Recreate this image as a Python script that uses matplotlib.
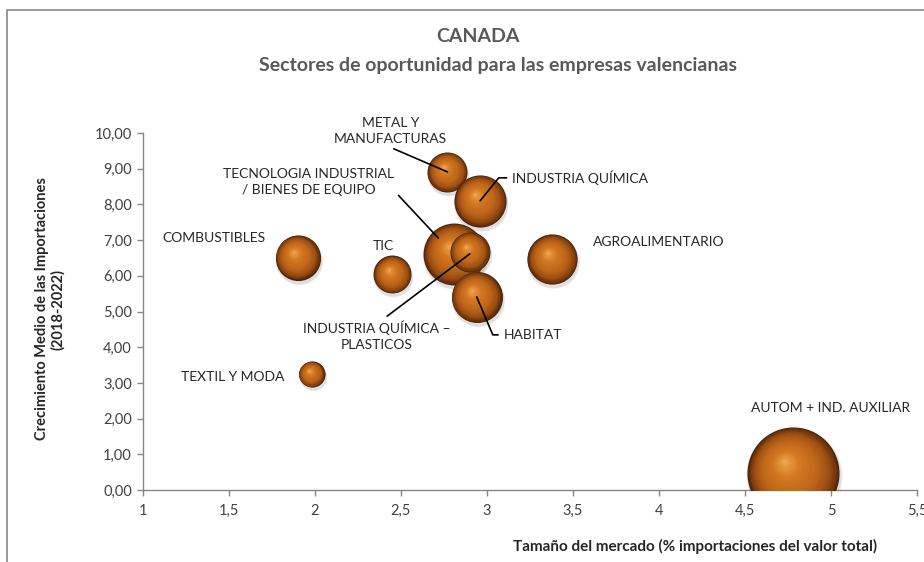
import numpy as np
import matplotlib
matplotlib.use('Agg')
import matplotlib.pyplot as plt
from matplotlib.colors import LinearSegmentedColormap
from matplotlib.patches import Rectangle
from matplotlib.transforms import offset_copy

plt.rcParams['font.family'] = ['Lato', 'DejaVu Sans']

# -----------------------
# Data
# -----------------------
sectors = ['COMBUSTIBLES', 'TIC', 'TEXTIL Y MODA', 'METAL Y\nMANUFACTURAS',
           'INDUSTRIA QUÍMICA', 'TECNOLOGIA INDUSTRIAL\n/ BIENES DE EQUIPO',
           'INDUSTRIA QUÍMICA –\nPLASTICOS', 'HABITAT', 'AGROALIMENTARIO',
           'AUTOM + IND. AUXILIAR']
market_size = [1.90, 2.45, 1.98, 2.77, 2.96, 2.81, 2.90, 2.94, 3.38, 4.78]
growth = [6.51, 6.04, 3.25, 8.91, 8.10, 6.61, 6.67, 5.41, 6.47, 0.48]
bubble = [5.1, 3.6, 1.7, 4.0, 6.8, 9.6, 4.0, 6.5, 6.3, 21.2]

x_ticks = [1, 1.5, 2, 2.5, 3, 3.5, 4, 4.5, 5, 5.5]
x_labels = ['1', '1,5', '2', '2,5', '3', '3,5', '4', '4,5', '5', '5,5']
y_ticks = list(range(0, 11))
y_labels = [f'{v},00' for v in y_ticks]

# drawing order (back to front)
order = [5, 6, 7, 3, 4, 0, 1, 2, 8, 9]

# label placement: offset in pixels from bubble, alignment, leader line
label_style = {
    0: (-84, 20, 'center', None),
    1: (-9, 28, 'center', None),
    2: (-79, -3, 'center', None),
    3: (-57, 41, 'center', dict(relpos=(0.45, 0.0), conn='arc3', end=(0, 0))),
    4: (32, 23, 'left', dict(relpos=(0.0, 0.5), conn='angle,angleA=0,angleB=51,rad=0', end=(0, 0))),
    5: (-130, 56, 'center', dict(relpos=(1.0, 0.2), conn='arc3', end=(-16, 16))),
    6: (-93, -82, 'center', dict(relpos=(0.53, 1.0), conn='arc3', end=(0, -2))),
    7: (27, -38, 'left', dict(relpos=(0.0, 0.5), conn='angle,angleA=0,angleB=113,rad=0', end=(0, 0))),
    8: (106, 17, 'center', None),
    9: (37, 65, 'center', None),
}

DPI = 100
fig = plt.figure(figsize=(9.24, 5.62), dpi=DPI)
ax = fig.add_axes([143 / 924, 72 / 562, 774 / 924, 357 / 562])

sphere_cmap = LinearSegmentedColormap.from_list(
    'sphere', [(0.0, '#4d240b'), (0.07, '#75390d'), (0.2, '#a05113'),
               (0.4, '#bf6619'), (0.7, '#d37922'), (0.9, '#e8973f'), (1.0, '#f5ad5c')])


def draw_bubble(x, y, size, z):
    r_px = 10 * np.sqrt(size)
    s_pt = (2 * r_px * 72 / DPI) ** 2
    hx, hy = -0.2 * r_px, 0.26 * r_px
    # soft shadow
    for a, grow in [(0.10, 1.10), (0.15, 1.04)]:
        sh = offset_copy(ax.transData, fig=fig, x=1.0, y=-3.0, units='dots')
        ax.scatter([x], [y], s=s_pt * grow, color='#7a7a7a', alpha=a,
                   linewidths=0, transform=sh, zorder=z)
    n = 45
    for k in range(n):
        t = k / n
        tr = offset_copy(ax.transData, fig=fig, x=hx * t, y=hy * t, units='dots')
        ax.scatter([x], [y], s=s_pt * (1 - t) ** 2, color=sphere_cmap(t),
                   linewidths=0, transform=tr, zorder=z + 0.01 * t)


for i, idx in enumerate(order):
    draw_bubble(market_size[idx], growth[idx], bubble[idx], 3 + i)

for idx, (dx, dy, ha, lead) in label_style.items():
    kw = dict(textcoords='offset pixels', xytext=(dx, dy), ha=ha, va='center',
              fontsize=10, color='#262626', linespacing=1.4, zorder=30)
    if lead is None:
        ax.annotate(sectors[idx], xy=(market_size[idx], growth[idx]), **kw)
    else:
        ex, ey = lead['end']
        tr = offset_copy(ax.transData, fig=fig, x=ex, y=ey, units='dots')
        ax.annotate(sectors[idx], xy=(market_size[idx], growth[idx]), xycoords=tr,
                    arrowprops=dict(arrowstyle='-', color='black', lw=1.2,
                                    relpos=lead['relpos'], connectionstyle=lead['conn'],
                                    shrinkA=2, shrinkB=0),
                    **kw)

# -----------------------
# Axes styling
# -----------------------
ax.set_xlim(1, 5.5)
ax.set_ylim(0, 10)
ax.set_xticks(x_ticks)
ax.set_xticklabels(x_labels)
ax.set_yticks(y_ticks)
ax.set_yticklabels(y_labels)
for side in ['top', 'right']:
    ax.spines[side].set_visible(False)
for side in ['left', 'bottom']:
    ax.spines[side].set_color('#868686')
    ax.spines[side].set_linewidth(1.0)
ax.tick_params(colors='#868686', length=4, width=1, labelcolor='#404040', labelsize=10.5)
ax.tick_params(axis='x', pad=6)
ax.tick_params(axis='y', pad=4)
ax.set_facecolor('none')

# titles
fig.text(478 / 924, 1 - 37 / 562, 'CANADA', ha='center', va='center',
         fontsize=14, fontweight='bold', color='#595959')
fig.text(498 / 924, 1 - 65 / 562, 'Sectores de oportunidad para las empresas valencianas',
         ha='center', va='center', fontsize=14, fontweight='bold', color='#595959')
fig.text(50 / 924, 1 - 309 / 562, 'Crecimiento Medio de las Importaciones\n(2018-2022)',
         ha='center', va='center', rotation=90, fontsize=10.5, fontweight='bold',
         color='#262626', linespacing=1.2)
fig.text(695 / 924, 1 - 546 / 562, 'Tamaño del mercado (% importaciones del valor total)',
         ha='center', va='center', fontsize=11, fontweight='bold', color='#262626')

# chart border
fig.patches.append(Rectangle((7 / 924, -0.1), 2, 1 - 10 / 562 + 0.1, fill=False,
                             edgecolor='#888888', lw=1.2, transform=fig.transFigure))

fig.savefig('out.png', dpi=DPI)
